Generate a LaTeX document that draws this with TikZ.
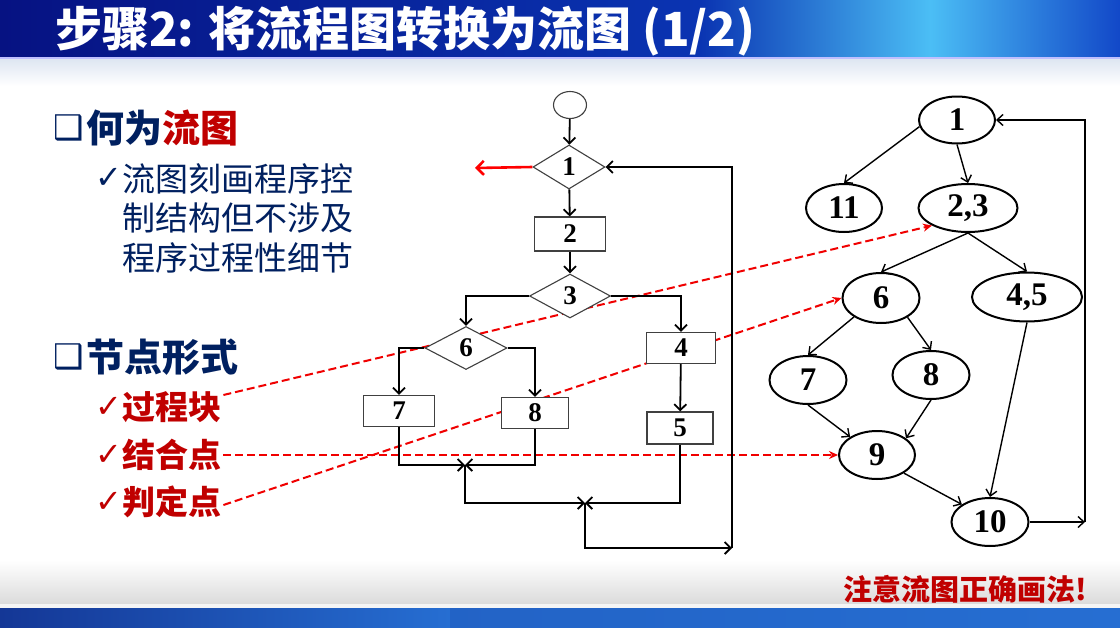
\documentclass[tikz,border=0pt]{standalone}
\usepackage{fontspec}
\setmainfont{Liberation Serif}
\newfontfamily\cjk{Noto Sans CJK SC}
\newfontfamily\sym{DejaVu Sans}
\usepackage{tikz}
\usetikzlibrary{calc,arrows.meta,shapes.geometric,positioning}
\definecolor{navy}{RGB}{0,32,96}
\definecolor{darkred}{RGB}{192,0,0}
\definecolor{hintred}{RGB}{240,0,0}
\definecolor{tbA}{RGB}{6,18,130}
\definecolor{tbB}{RGB}{10,52,178}
\definecolor{tbC}{RGB}{75,190,245}
\definecolor{tbD}{RGB}{18,72,200}
\definecolor{barA}{RGB}{38,110,210}
\definecolor{barB}{RGB}{20,55,150}

\begin{document}
\begin{tikzpicture}[
    x=1pt, y=-1pt,
    proc/.style={rectangle, draw=black!75, line width=1.1pt, fill=white, minimum height=31pt, inner sep=0pt, font=\fontsize{27}{27}\selectfont\bfseries},
    decide/.style={diamond, draw=black!75, line width=1.1pt, fill=white, inner sep=0pt, font=\fontsize{27}{27}\selectfont\bfseries},
    vert/.style={ellipse, draw, line width=2pt, minimum width=77pt, minimum height=48pt, inner sep=0pt, font=\fontsize{33}{33}\selectfont\bfseries},
    flow/.style={-{Straight Barb[length=6pt,width=12pt]}, line width=1.8pt},
    edge/.style={-{Straight Barb[length=6pt,width=11pt]}, line width=1.4pt},
    hint/.style={-{Stealth[length=9pt,width=8pt]}, hintred, dash pattern=on 8pt off 4pt, line width=2pt},
    bullet/.style={anchor=west, inner sep=0pt, font=\sym\bfseries\fontsize{34}{34}\selectfont},
    tick/.style={anchor=west, inner sep=0pt, font=\sym\fontsize{32}{32}\selectfont}
]
    \useasboundingbox (0,0) rectangle (1120,627);
    % background
    \fill[white] (0,0) rectangle (1120,627);
    \shade[left color=tbA, right color=tbB] (0,0) rectangle (700,57);
    \shade[left color=tbB, right color=tbC] (700,0) rectangle (930,57);
    \shade[left color=tbC, right color=tbD] (930,0) rectangle (1120,57);
    \fill[blue!25!white] (0,57) rectangle (1120,59);
    \shade[top color={rgb,255:red,222;green,230;blue,242}, bottom color=white] (0,59) rectangle (1120,86);
    \shade[top color=white, bottom color=black!14] (0,560) rectangle (1120,604);
    \fill[black!4] (0,604) rectangle (1120,608);
    \shade[left color=barB, right color=barA] (0,608) rectangle (450,627);
    \shade[left color=barA!80!barB, right color=barA] (450,608) rectangle (1120,627);

    % title
    \node[anchor=west, inner sep=0pt, text=white, font=\cjk\bfseries\fontsize{47}{47}\selectfont] (title) at (55,31) {步骤2: 将流程图转换为流图 (1/2)};

    % left text
    \node[bullet, text=navy] (q1) at (53,128) {❑};
    \node[anchor=west, inner sep=0pt, text=navy, font=\cjk\bfseries\fontsize{38}{38}\selectfont] (what) at (86,128) {何为\textcolor{darkred}{流图}};
    \node[tick, text=navy] (v1) at (95,178) {✓};
    \node[anchor=west, align=left, inner sep=0pt, text=navy, font=\cjk\fontsize{33}{39.5}\selectfont] (desc) at (122,218) {流图刻画程序控\\制结构但不涉及\\程序过程性细节};
    \node[bullet, text=navy] (q2) at (53,357) {❑};
    \node[anchor=west, inner sep=0pt, text=navy, font=\cjk\bfseries\fontsize{38}{38}\selectfont] (form) at (86,357) {节点形式};
    \foreach \y/\t/\n in {407/过程块/k1, 455/结合点/k2, 502/判定点/k3} {
        \node[tick, text=darkred] at (95,\y) {✓};
        \node[anchor=west, inner sep=2pt, text=darkred, font=\cjk\bfseries\fontsize{33}{33}\selectfont] (\n) at (120,\y) {\t};
    }

    % flow graph
    \node[vert, minimum width=76pt, minimum height=47pt] (n1) at (957,120) {1};
    \node[vert, minimum width=76pt] (n11) at (844,208) {11};
    \node[vert, minimum width=99pt] (n23) at (968,208) {2,3};
    \node[vert, minimum height=50pt] (n6) at (881,298) {6};
    \node[vert, minimum width=110pt, minimum height=49pt] (n45) at (1027,297) {4,5};
    \node[vert] (n7) at (808,380) {7};
    \node[vert] (n8) at (931,375) {8};
    \node[vert, minimum width=76pt] (n9) at (877,455) {9};
    \node[vert] (n10) at (990,522) {10};
    \coordinate (back) at (1085,522);
    \draw[edge] (n1.190) -- (n11.north);
    \draw[edge] (n1.south) -- (n23.north);
    \draw[edge] (n23.south) -- (n6.north);
    \draw[edge] (n23.south) -- (n45.north);
    \draw[edge] (n6.215) -- (n7.north);
    \draw[edge] (n6.324) -- (n8.north);
    \draw[edge] (n7.south) -- (n9.146);
    \draw[edge] (n8.south) -- (n9.30);
    \draw[edge] (n9.326) -- (n10.148);
    \draw[edge] (n45.south) -- (n10.north);
    \draw[edge] (n10.east) -- (back);
    \draw[edge] (back) |- (n1.east);

    % hints from the left list
    \draw[hint] ([yshift=12pt]k1.east) -- (n23.206);
    \draw[hint] (k2.east) -- (n9.west);
    \draw[hint] ([yshift=-3pt]k3.east) -- (n6.west);

    % flowchart
    \node[ellipse, draw=black!75, line width=1.1pt, fill=white, minimum width=33pt, minimum height=27pt] (start) at (570,105) {};
    \node[decide, minimum width=72pt, minimum height=44pt] (d1) at (569,167) {1};
    \node[proc, minimum width=71pt, minimum height=34pt] (b2) at (570,234) {2};
    \node[decide, minimum width=81pt, minimum height=44pt] (d3) at (570,296) {3};
    \node[decide, minimum width=82pt, minimum height=43pt] (d6) at (466,348) {6};
    \node[proc, minimum width=69pt] (b4) at (681,348) {4};
    \node[proc, minimum width=71pt] (b7) at (399,411) {7};
    \node[proc, minimum width=67pt] (b8) at (535,413) {8};
    \node[proc, minimum width=66pt, minimum height=32pt] (b5) at (680,428) {5};
    \coordinate (exit) at (475,168);
    \coordinate (j1) at (465,465);
    \coordinate (j2) at (585,503);
    \coordinate (j3) at (732,548);
    \draw[-{Straight Barb[length=7pt,width=14pt]}, red, line width=2.6pt] (d1.west) -- (exit);
    \draw[flow] (start) -- (d1);
    \draw[flow] (d1) -- (b2);
    \draw[flow] (b2) -- (d3);
    \draw[flow] (d3.west) -| (d6.north);
    \draw[flow] (d3.east) -| (b4.north);
    \draw[flow] (d6.west) -| (b7.north);
    \draw[flow] (d6.east) -| (b8.north);
    \draw[flow] (b4) -- (b5);
    \draw[flow] (b7.south) |- (j1);
    \draw[flow] (b8.south) |- (j1);
    \draw[flow] (j1) |- (j2);
    \draw[flow] (b5.south) |- (j2);
    \draw[flow] (j2) |- (j3);
    \draw[flow] (j3) |- (d1.east);

    % note
    \node[anchor=east, inner sep=0pt, text=darkred, font=\cjk\bfseries\fontsize{29}{29}\selectfont] (note) at (1087,589) {注意流图正确画法!};
\end{tikzpicture}
\end{document}
